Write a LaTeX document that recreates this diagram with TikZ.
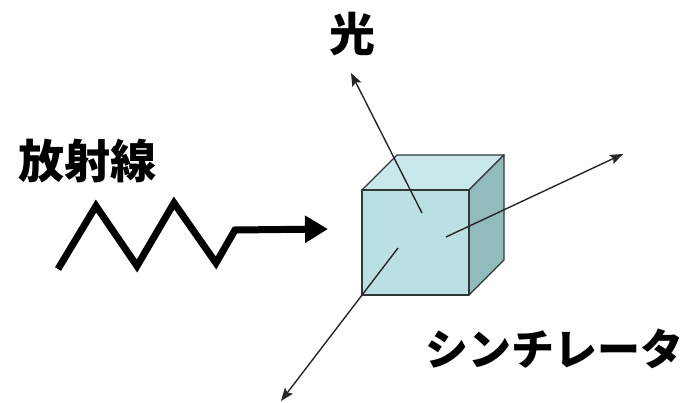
\documentclass[tikz,border=0pt]{standalone}
\usepackage{fontspec}
\newfontfamily\jp{Noto Sans CJK JP}
\usetikzlibrary{arrows.meta}
\definecolor{frontc}{RGB}{187,224,227}
\definecolor{topc}{RGB}{201,232,235}
\definecolor{sidec}{RGB}{146,187,190}
\definecolor{edgec}{RGB}{50,55,55}
\tikzset{
  face/.style={draw=edgec, line width=1.4pt, line join=round},
  ray/.style={draw=black!85, line width=1.4pt, -{Stealth[length=13pt,width=10pt,inset=2.5pt]}},
  wave/.style={draw=black, line width=7pt, line join=miter, -{Triangle[length=23pt,width=26pt]}},
  label/.style={font=\jp\bfseries, inner sep=0pt, text=black}
}
\begin{document}
\begin{tikzpicture}[x=1pt,y=-1pt]
\useasboundingbox (0,0) rectangle (688,403);
% cube corners
\coordinate (fa) at (362,190);
\coordinate (fb) at (469,190);
\coordinate (fc) at (469,295);
\coordinate (fd) at (362,295);
\coordinate (ba) at (397,155);
\coordinate (bb) at (504,155);
\coordinate (bc) at (504,260);
% faces
\filldraw[face, fill=topc] (fa) -- (ba) -- (bb) -- (fb) -- cycle;
\filldraw[face, fill=sidec] (fb) -- (bb) -- (bc) -- (fc) -- cycle;
\filldraw[face, fill=frontc] (fa) -- (fb) -- (fc) -- (fd) -- cycle;
% light emitted from inside the crystal
\coordinate (s1) at (422,213);
\coordinate (s2) at (446,237);
\coordinate (s3) at (398,248);
\coordinate (t1) at (351,73);
\coordinate (t2) at (623,154);
\coordinate (t3) at (281,401);
\draw[ray] (s1) -- (t1);
\draw[ray] (s2) -- (t2);
\draw[ray] (s3) -- (t3);
% incoming radiation
\coordinate (z0) at (58,269);
\coordinate (z1) at (96,206);
\coordinate (z2) at (137,266);
\coordinate (z3) at (174,203);
\coordinate (z4) at (216,263);
\coordinate (z5) at (235,230);
\coordinate (z6) at (328,229);
\draw[wave] (z0) -- (z1) -- (z2) -- (z3) -- (z4) -- (z5) -- (z6);
% labels
\node[label, font=\jp\bfseries\fontsize{46}{46}\selectfont] (rad) at (87,161) {放射線};
\node[label, font=\jp\bfseries\fontsize{46}{46}\selectfont] (hikari) at (352,34) {光};
\node[label, font=\jp\bfseries\fontsize{43}{43}\selectfont] (scint) at (554,349) {シンチレータ};
\end{tikzpicture}
\end{document}
